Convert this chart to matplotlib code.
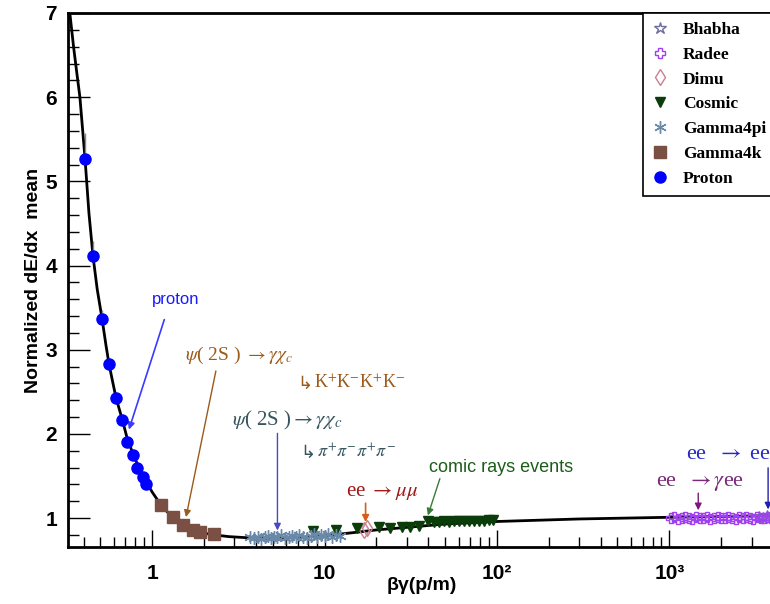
import matplotlib
matplotlib.use("Agg")
import matplotlib.pyplot as plt
from matplotlib.ticker import FixedLocator, LogLocator, MultipleLocator, NullFormatter

plt.rcParams['mathtext.fontset'] = 'stix'

# mean curve (beta*gamma, normalized dE/dx)
curve_bg = [0.333, 0.35, 0.365, 0.381, 0.408, 0.43, 0.454, 0.48, 0.512, 0.54, 0.562, 0.59, 0.617,
            0.669, 0.716, 0.775, 0.83, 0.9, 1.0, 1.13, 1.31, 1.51, 1.71, 1.9, 2.29, 2.8, 3.7,
            5.0, 7.0, 10.0, 15.0, 20.0, 30.0, 50.0, 100.0, 300.0, 1000.0, 4100.0]
curve_val = [7.0, 6.6, 6.3, 6.0, 5.27, 4.62, 4.11, 3.72, 3.37, 3.05, 2.83, 2.62, 2.43,
             2.18, 1.95, 1.76, 1.62, 1.47, 1.31, 1.15, 1.01, 0.92, 0.86, 0.83, 0.80, 0.78, 0.765,
             0.76, 0.77, 0.79, 0.83, 0.86, 0.89, 0.93, 0.96, 0.99, 1.01, 1.03]

# samples
proton_bg = [0.408, 0.454, 0.512, 0.562, 0.617, 0.669, 0.716, 0.775, 0.82, 0.88, 0.923]
proton_val = [5.27, 4.11, 3.37, 2.83, 2.43, 2.17, 1.91, 1.75, 1.60, 1.49, 1.40]
proton_err = [0.30, 0.18, 0.10, 0.07, 0.05, 0.04, 0.03, 0.03, 0.02, 0.02, 0.02]

gamma4k_bg = [1.13, 1.32, 1.51, 1.73, 1.90, 2.29]
gamma4k_val = [1.15, 1.01, 0.92, 0.86, 0.83, 0.81]

gamma4pi_bg = [3.7, 3.9, 4.1, 4.3, 4.5, 4.7, 4.9, 5.1, 5.3, 5.6, 5.9, 6.2, 6.5, 6.8, 7.1,
               7.5, 7.9, 8.3, 8.7, 9.1, 9.5, 10.0, 10.5, 11.0, 11.6, 12.3]
gamma4pi_val = [0.77, 0.76, 0.78, 0.75, 0.77, 0.79, 0.76, 0.78, 0.77, 0.80, 0.76, 0.78, 0.79, 0.77, 0.80,
                0.78, 0.76, 0.79, 0.81, 0.78, 0.80, 0.79, 0.81, 0.78, 0.80, 0.79]

cosmic_bg = [8.6, 11.6, 15.5, 20.6, 24.1, 28.0, 31.4, 35.2, 39.7, 43.0, 46.0, 49.5, 53.0, 56.5,
             60.1, 64.3, 68.7, 73.5, 78.6, 84.0, 89.8, 94.8]
cosmic_val = [0.85, 0.86, 0.88, 0.89, 0.88, 0.89, 0.90, 0.91, 0.96, 0.95, 0.95, 0.96, 0.95, 0.96,
              0.96, 0.96, 0.97, 0.96, 0.97, 0.97, 0.98, 0.98]

dimu_bg = [17.0, 17.6]
dimu_val = [0.86, 0.88]

radee_bg = [1020, 1070, 1120, 1180, 1240, 1300, 1360, 1430, 1500, 1570, 1650, 1730, 1820, 1910,
            2000, 2100, 2200, 2310, 2420, 2540, 2660, 2790, 2930, 3070, 3220, 3380, 3540, 3710,
            3890, 4050]
radee_val = [1.00, 1.01, 0.99, 1.00, 1.01, 1.00, 0.99, 1.01, 1.00, 1.00, 1.01, 0.99, 1.00, 1.01,
             1.00, 1.00, 1.01, 1.00, 0.99, 1.01, 1.00, 1.01, 1.00, 0.99, 1.01, 1.00, 1.00, 1.01,
             1.00, 1.01]

bhabha_bg = [3300, 3500, 3700, 3950]
bhabha_val = [1.01, 1.00, 1.02, 1.01]

fig = plt.figure(figsize=(7.7, 6.04), dpi=100)
ax = fig.add_axes([68 / 770, 57 / 604, 707 / 770, 534 / 604])

ax.plot(curve_bg, curve_val, color='black', lw=2, zorder=2)

h_bh, = ax.plot(bhabha_bg, bhabha_val, ls='none', marker='*', ms=9, mfc='none', mec='#6E6E9E', mew=1, label='Bhabha', zorder=3)
h_ra, = ax.plot(radee_bg, radee_val, ls='none', marker='P', ms=7, mfc='none', mec='#A040F0', mew=1, label='Radee', zorder=3)
h_di, = ax.plot(dimu_bg, dimu_val, ls='none', marker='d', ms=8, mfc='none', mec='#C88090', mew=1, label='Dimu', zorder=3)
h_co, = ax.plot(cosmic_bg, cosmic_val, ls='none', marker='v', ms=7.5, color='#0B3D0B', label='Cosmic', zorder=3)
h_g4pi, = ax.plot(gamma4pi_bg, gamma4pi_val, ls='none', marker=(6, 2, 0), ms=9, color='#6A88A8', mew=1, label='Gamma4pi', zorder=3)
h_g4k, = ax.plot(gamma4k_bg, gamma4k_val, ls='none', marker='s', ms=8, color='#7A5045', label='Gamma4k', zorder=3)
ax.errorbar(proton_bg, proton_val, yerr=[[0] * len(proton_err), proton_err], fmt='none', ecolor='#888888', elinewidth=1, zorder=3)
h_pr, = ax.plot(proton_bg, proton_val, ls='none', marker='o', ms=8, color='#0000FF', label='Proton', zorder=4)

ax.set_xscale('log')
ax.set_xlim(0.325, 4100)
ax.set_ylim(0.657, 7.0)

# ticks
ax.xaxis.set_major_locator(FixedLocator([1, 10, 100, 1000]))
ax.set_xticklabels(['1', '10', '10²', '10³'])
ax.xaxis.set_minor_locator(LogLocator(base=10, subs=range(2, 10)))
ax.xaxis.set_minor_formatter(NullFormatter())
ax.yaxis.set_major_locator(MultipleLocator(1))
ax.yaxis.set_minor_locator(MultipleLocator(0.2))
ax.tick_params(axis='x', which='major', direction='in', length=12, width=1, pad=12)
ax.tick_params(axis='x', which='minor', direction='in', length=7, width=1)
ax.tick_params(axis='y', which='major', direction='in', length=16, width=1, pad=8)
ax.tick_params(axis='y', which='minor', direction='in', length=8, width=1)
ax.tick_params(top=False, right=False, which='both')
for lbl in ax.get_xticklabels() + ax.get_yticklabels():
    lbl.set_fontfamily('Liberation Sans')
    lbl.set_fontweight('bold')
    lbl.set_fontsize(15)
for sp in ax.spines.values():
    sp.set_linewidth(2)

ax.set_ylabel('Normalized dE/dx  mean', fontfamily='Liberation Sans', fontweight='bold', fontsize=14, labelpad=2)
ax.set_xlabel('βγ(p/m)', fontfamily='Liberation Sans', fontweight='bold', fontsize=14, labelpad=-4)

# annotations
ax.annotate('', xy=(0.725, 2.02), xytext=(1.19, 3.39),
            arrowprops=dict(arrowstyle='-|>', color='#3A3AFF', lw=1.2, mutation_scale=10))
ax.text(1.36, 3.60, 'proton', color='#1A1AFF', fontfamily='Liberation Sans', fontsize=12, ha='center', va='center')

ax.annotate('', xy=(1.56, 0.98), xytext=(2.36, 2.78),
            arrowprops=dict(arrowstyle='-|>', color='#9B5A1A', lw=1, mutation_scale=10))
ax.text(1.56, 2.93, r'$\psi$( 2S ) $\rightarrow\gamma\chi_c$', color='#9B5A1A',
        fontfamily='Liberation Serif', fontsize=14, ha='left', va='center')
ax.text(6.97, 2.60, '↳', color='#9B5A1A', fontfamily='DejaVu Sans', fontsize=13, ha='left', va='center')
ax.annotate('K$^{+}$K$^{-}$K$^{+}$K$^{-}$', xy=(6.97, 2.60), xytext=(12, 0), textcoords='offset points',
            color='#9B5A1A', fontfamily='Liberation Serif', fontsize=13, ha='left', va='center')

ax.annotate('', xy=(5.33, 0.82), xytext=(5.33, 2.04),
            arrowprops=dict(arrowstyle='-|>', color='#4848C8', lw=1, mutation_scale=10))
ax.text(2.92, 2.16, r'$\psi$( 2S )$\rightarrow\gamma\chi_c$', color='#37555E',
        fontfamily='Liberation Serif', fontsize=15, ha='left', va='center')
ax.text(7.25, 1.78, '↳', color='#37555E', fontfamily='DejaVu Sans', fontsize=13, ha='left', va='center')
ax.annotate(r'$\pi^{+}\pi^{-}\pi^{+}\pi^{-}$', xy=(7.25, 1.78), xytext=(12, 0), textcoords='offset points',
            color='#37555E', fontfamily='Liberation Serif', fontsize=13, ha='left', va='center')

ax.annotate('', xy=(17.3, 0.92), xytext=(17.3, 1.21),
            arrowprops=dict(arrowstyle='-|>', color='#D0601A', lw=1.2, mutation_scale=10))
ax.text(13.25, 1.31, r'ee $\rightarrow\mu\mu$', color='#A01818',
        fontfamily='Liberation Serif', fontsize=15, ha='left', va='center')

ax.annotate('', xy=(39.3, 1.0), xytext=(47.2, 1.50),
            arrowprops=dict(arrowstyle='-|>', color='#3A7A3A', lw=1, mutation_scale=10))
ax.text(40.1, 1.60, 'comic rays events', color='#1A5E1A', fontfamily='Liberation Sans',
        fontsize=13, ha='left', va='center')

ax.annotate('', xy=(3739, 1.07), xytext=(3739, 1.63),
            arrowprops=dict(arrowstyle='-|>', color='#2020B0', lw=1, mutation_scale=10))
ax.text(1253, 1.75, r'ee  $\rightarrow$ ee', color='#2828C8', fontfamily='Liberation Serif',
        fontsize=16, ha='left', va='center')

ax.annotate('', xy=(1471, 1.06), xytext=(1471, 1.33),
            arrowprops=dict(arrowstyle='-|>', color='#7A1A7A', lw=1, mutation_scale=10))
ax.text(838, 1.41, r'ee  $\rightarrow\gamma$ee', color='#7A2A7A', fontfamily='Liberation Serif',
        fontsize=16, ha='left', va='center')

leg = ax.legend(handles=[h_bh, h_ra, h_di, h_co, h_g4pi, h_g4k, h_pr], loc='upper left',
                bbox_to_anchor=((643 - 68) / 707, 1.0, 0.2, 0.0), mode='expand', borderaxespad=0,
                fancybox=False, edgecolor='black', framealpha=1,
                prop={'family': 'Liberation Serif', 'weight': 'bold', 'size': 12.5},
                labelspacing=0.5, handlelength=1.0, handletextpad=0.8, borderpad=0.5)
leg.get_frame().set_linewidth(1.2)

fig.savefig('out.png', dpi=100)
